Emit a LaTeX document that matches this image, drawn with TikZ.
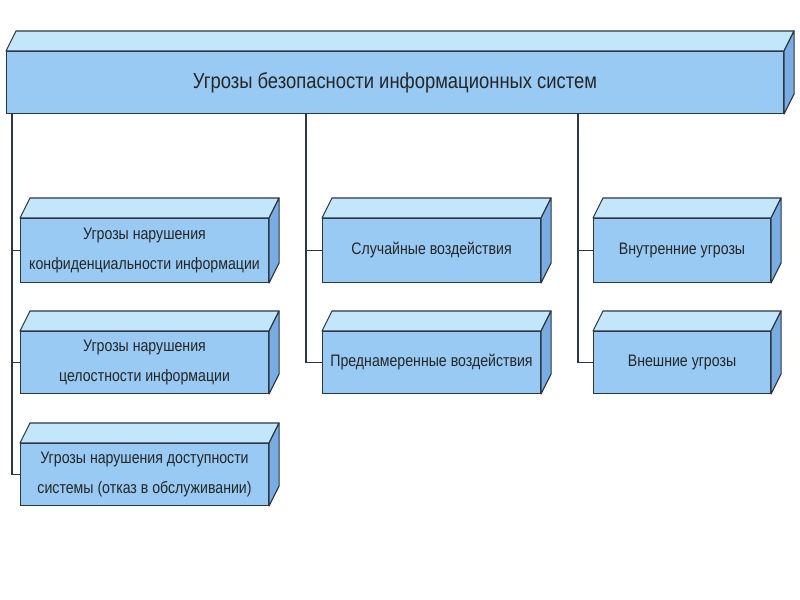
\documentclass[tikz,border=0pt]{standalone}
\usepackage{fontspec}
\setmainfont{Liberation Sans}[FakeStretch=0.85]
\usetikzlibrary{positioning}

\definecolor{frontblue}{RGB}{152,202,244}
\definecolor{topblue}{RGB}{196,230,250}
\definecolor{sideblue}{RGB}{120,172,226}
\definecolor{edgegray}{RGB}{45,55,65}

\tikzset{
  front/.style={rectangle, draw=edgegray, fill=frontblue, line width=0.9pt,
    anchor=north west, inner sep=0pt, align=center, text=black!85},
  face/.style={draw=edgegray, line width=0.9pt, line join=round},
  branch/.style={draw=edgegray, line width=0.9pt},
}

% #1 name, #2 x, #3 y (front top left), #4 width, #5 height, #6 text
\newcommand{\quader}[6]{%
  \node[front, minimum width=#4*0.03cm, minimum height=#5*0.03cm] (#1) at (#2,#3) {#6};
  \filldraw[face, fill=topblue] (#1.north west) -- ++(10,-20) -- ([shift={(10,-20)}]#1.north east) -- (#1.north east) -- cycle;
  \filldraw[face, fill=sideblue] (#1.north east) -- ++(10,-20) -- ([shift={(10,-20)}]#1.south east) -- (#1.south east) -- cycle;
}

\begin{document}
\begin{tikzpicture}[x=0.03cm, y=-0.03cm]
\useasboundingbox (0,0) rectangle (800,600);

% main box
\quader{main}{6}{51}{777}{62}{\fontsize{18.5}{22}\selectfont Угрозы безопасности информационных систем}

\begin{scope}[font=\fontsize{14.2}{25.5}\selectfont]
% left column
\quader{conf}{20}{218}{248}{64}{Угрозы нарушения\\конфиденциальности информации}
\quader{integ}{20}{331}{248}{62}{Угрозы нарушения\\целостности информации}
\quader{avail}{20}{443}{248}{62}{Угрозы нарушения доступности\\системы (отказ в обслуживании)}
% middle column
\quader{rand}{322}{218}{218}{64}{Случайные воздействия}
\quader{intent}{322}{331}{218}{62}{Преднамеренные воздействия}
% right column
\quader{inner}{593}{218}{177}{64}{Внутренние угрозы}
\quader{outer}{593}{331}{177}{62}{Внешние угрозы}
\end{scope}

% branches
\coordinate (trunkA) at (main.south west -| 12,0);
\coordinate (trunkB) at (main.south west -| 306,0);
\coordinate (trunkC) at (main.south west -| 578,0);
\draw[branch] (trunkA) |- (conf.west);
\draw[branch] (trunkA) |- (integ.west);
\draw[branch] (trunkA) |- (avail.west);
\draw[branch] (trunkB) |- (rand.west);
\draw[branch] (trunkB) |- (intent.west);
\draw[branch] (trunkC) |- (inner.west);
\draw[branch] (trunkC) |- (outer.west);
\end{tikzpicture}
\end{document}
